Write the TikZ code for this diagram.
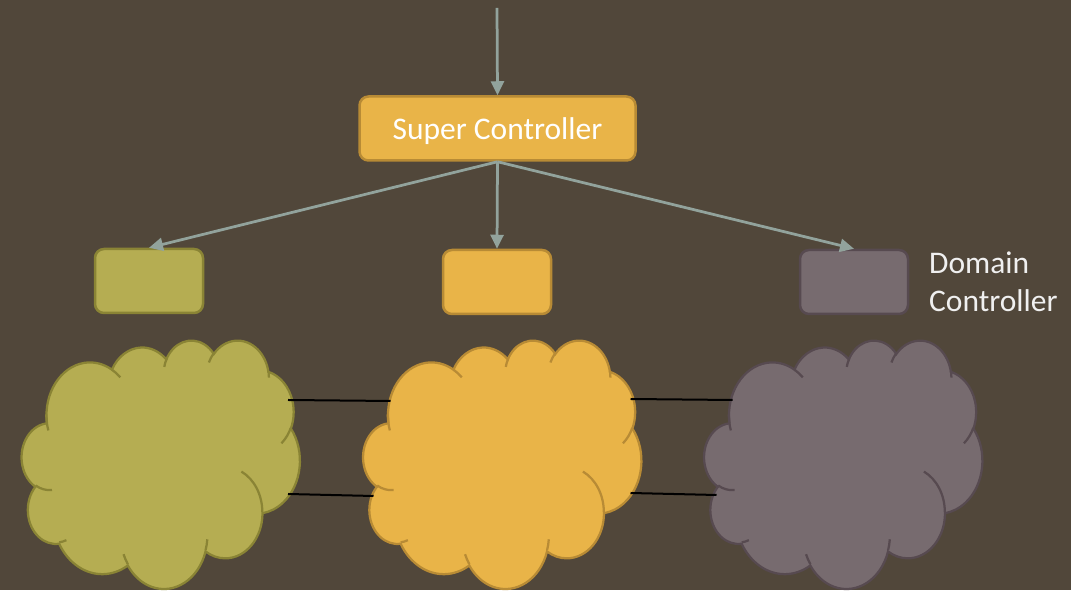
\documentclass[tikz,border=0pt]{standalone}
\usepackage{fontspec}
\setmainfont{Carlito}
\usetikzlibrary{arrows.meta}

\definecolor{bgbrown}{HTML}{51473A}
\definecolor{olive}{HTML}{B5AD52}
\definecolor{olivedk}{HTML}{8A8435}
\definecolor{gold}{HTML}{E9B448}
\definecolor{golddk}{HTML}{B88B35}
\definecolor{mauve}{HTML}{776B6F}
\definecolor{mauvedk}{HTML}{574A50}
\definecolor{arrgray}{HTML}{92A39C}

% one elliptic puff: x radius, y radius, start and sweep (seen angles)
\newcommand\puff[4]{arc[x radius=#1, y radius=#2,
  start angle={atan2(sin(#3)/#2,cos(#3)/#1)},
  delta angle={mod(atan2(sin(#3+#4)/#2,cos(#3+#4)/#1)-atan2(sin(#3)/#2,cos(#3)/#1)+720,360)}]}

% cloud outline on a 432 x 432 grid, y downwards
\newcommand\cloudoutline{(39.00,143.70)
  \puff{67.53}{91.90}{-190.4875}{123.7805}
  \puff{53.33}{72.67}{-144.1024}{89.9452}
  \puff{43.65}{59.45}{-145.8079}{99.7230}
  \puff{48.57}{65.95}{-130.9861}{117.2417}
  \puff{53.33}{72.73}{-78.7089}{109.0269}
  \puff{67.75}{92.20}{-46.2673}{130.2690}
  \puff{57.85}{78.67}{0.6250}{114.0333}
  \puff{67.52}{92.15}{22.4516}{115.1726}
  \puff{77.20}{105.43}{66.2426}{75.7110}
  \puff{43.60}{59.18}{-274.9421}{146.7356}
  \puff{43.45}{59.45}{-246.8285}{152.5189} -- cycle}

% inner folds of the cloud
\newcommand\cloudfolds{
  (46.93,261.77) \puff{43.45}{59.45}{86.7420}{26.4295}
  (69.28,348.99) \puff{43.60}{59.18}{73.6105}{11.4475}
  (164.78,390.90) \puff{67.52}{92.15}{137.6242}{14.0811}
  (288.27,347.51) \puff{67.52}{92.15}{6.4533}{15.9984}
  (341.29,229.54) \puff{57.85}{78.67}{-70.2924}{70.9174}
  (417.98,153.54) \puff{53.33}{72.73}{30.3180}{27.7515}
  (383.24,54.26) \puff{48.57}{65.95}{-13.7443}{14.8589}
  (290.78,39.52) \puff{48.57}{65.95}{-149.1815}{18.1954}
  (221.41,47.20) \puff{43.65}{59.45}{-163.4943}{17.6864}
  (140.00,51.92) \puff{67.53}{91.90}{-66.7070}{12.3194}
  (41.27,157.89) \puff{67.53}{91.90}{156.5613}{18.4413}}

\newcommand\drawcloud[3]{%
  \begin{scope}[shift={(#1.north west)}, x=0.6435pt, y=-0.5741pt,
                line width=2.25pt]
    \filldraw[fill=#2, draw=#3] \cloudoutline;
    \draw[#3] \cloudfolds;
  \end{scope}}

\begin{document}
\begin{tikzpicture}[
  x=1pt, y=1pt,
  font=\fontsize{31.5}{38}\selectfont,
  box/.style={draw, line width=2.5pt, rounded corners=9pt,
              minimum height=64pt, minimum width=108pt},
  ctrl/.style={box, fill=gold, draw=golddk},
  dom/.style ={box, minimum width=108pt},
  blob/.style={inner sep=0pt, minimum width=278pt, minimum height=248pt},
  arr/.style ={-{Triangle[length=14pt,width=13pt]}, line width=2.75pt, draw=arrgray},
  link/.style={line width=2pt, black}
]
\fill[bgbrown] (0,0) rectangle (1071,590);

\coordinate (in) at (497,582);
\node[ctrl, minimum width=276pt, text=white, inner sep=0pt, text depth=0pt]
      (sc) at (497.5,461.5) {Super Controller};

\node[dom, fill=olive, draw=olivedk] (dl) at (149,309) {};
\node[dom, fill=gold,  draw=golddk]  (dc) at (497,308) {};
\node[dom, fill=mauve, draw=mauvedk] (dr) at (854,308) {};
\node[anchor=west, align=left, text=white!94!black, inner sep=0pt] (lbl) at (929,308)
      {Domain\\Controller};

\node[blob] (lcloud) at (161,126) {};
\node[blob] (ccloud) at (502.5,126) {};
\node[blob] (rcloud) at (843.5,126) {};
\drawcloud{lcloud}{olive}{olivedk}
\drawcloud{ccloud}{gold}{golddk}
\drawcloud{rcloud}{mauve}{mauvedk}

\draw[arr] (in) -- (sc.north);
\draw[arr] (sc.south) -- (dl.north);
\draw[arr] (sc.south) -- (dc.north);
\draw[arr] (sc.south) -- (dr.north);

\draw[link] ([shift={(127,64)}]lcloud.center) -- ([shift={(-112,63)}]ccloud.center);
\draw[link] ([shift={(127,-30)}]lcloud.center) -- ([shift={(-129,-32)}]ccloud.center);
\draw[link] ([shift={(128,65)}]ccloud.center) -- ([shift={(-111,64)}]rcloud.center);
\draw[link] ([shift={(128,-29)}]ccloud.center) -- ([shift={(-127,-31)}]rcloud.center);
\end{tikzpicture}
\end{document}
